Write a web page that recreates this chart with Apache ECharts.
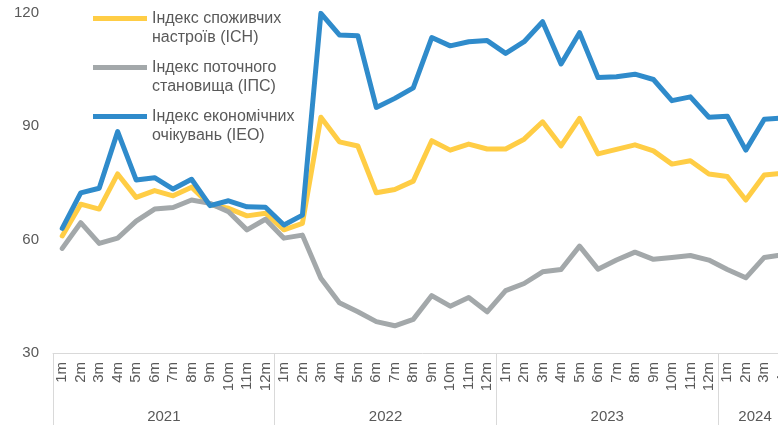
<!DOCTYPE html>
<html>
<head>
<meta charset="utf-8">
<script src="https://cdn.jsdelivr.net/npm/echarts@6/dist/echarts.min.js"></script>
<style>
  html, body { margin: 0; padding: 0; background: #fff; overflow: hidden; }
  #chart { width: 800px; height: 425px; }
</style>
</head>
<body>
<div id="chart"></div>
<script>
// місяці по роках (2024 — лише до квітня)
const years = ['2021', '2022', '2023', '2024'];
const monthsPerYear = [12, 12, 12, 4];
const months = [];
monthsPerYear.forEach(n => { for (let m = 1; m <= n; m++) months.push(m + 'm'); });

const yTicks = [30, 60, 90, 120];

const ich = [
  61.0, 69.4, 68.1, 77.4, 71.2, 73.0, 71.6, 73.9, 69.2, 68.3, 66.3, 67.0,
  62.6, 64.3, 92.4, 85.9, 84.8, 72.4, 73.3, 75.5, 86.2, 83.7, 85.3, 84.0,
  84.0, 86.6, 91.2, 84.8, 92.1, 82.7, 83.9, 85.1, 83.5, 80.0, 80.9, 77.4,
  76.7, 70.5, 77.1, 77.6
];
const ips = [
  57.7, 64.5, 59.0, 60.4, 64.9, 68.1, 68.5, 70.5, 69.6, 67.4, 62.6, 65.4,
  60.4, 61.2, 49.8, 43.3, 40.9, 38.3, 37.2, 38.9, 45.2, 42.4, 44.7, 40.9,
  46.5, 48.4, 51.5, 52.1, 58.3, 52.2, 54.6, 56.7, 54.8, 55.3, 55.8, 54.6,
  52.1, 49.9, 55.3, 56.0
];
const ieo = [
  63.0, 72.4, 73.6, 88.6, 75.8, 76.4, 73.4, 76.0, 69.0, 70.3, 68.7, 68.6,
  63.9, 66.5, 119.9, 114.2, 114.0, 95.0, 97.4, 100.2, 113.5, 111.3, 112.4, 112.7,
  109.3, 112.4, 117.7, 106.5, 114.8, 102.9, 103.1, 103.8, 102.4, 96.8, 97.8, 92.4,
  92.7, 83.7, 91.9, 92.2
];

const seriesNames = [
  'Індекс споживчих\nнастроїв (ІСН)',
  'Індекс поточного\nстановища (ІПС)',
  'Індекс економічних\nочікувань (ІЕО)'
];
const seriesColors = ['#FFCD45', '#A3A8AA', '#2F8BCB'];
const seriesData = [ich, ips, ieo];

// центри підписів років і межі між роками
const yearCenter = {};
const yearStarts = [];
let acc = 0;
monthsPerYear.forEach((n, i) => {
  yearStarts.push(acc);
  yearCenter[acc + n / 2] = years[i];
  acc += n;
});

const chart = echarts.init(document.getElementById('chart'));
const textColor = '#595959';
const font = 'Liberation Sans, Arial, sans-serif';

chart.setOption({
  animation: false,
  textStyle: { fontFamily: font },
  grid: { left: 53, right: 8, top: 13, bottom: 72 },
  legend: {
    orient: 'vertical',
    left: 93,
    top: -10,
    padding: 0,
    itemGap: -8,
    icon: 'rect',
    itemWidth: 54,
    itemHeight: 5,
    // порожній перший рядок — щоб лінія стояла навпроти першого рядка тексту
    formatter: name => '\n' + name,
    textStyle: {
      color: textColor,
      fontSize: 16,
      lineHeight: 19,
      fontFamily: font
    },
    data: seriesNames
  },
  xAxis: [
    {
      type: 'category',
      data: months,
      boundaryGap: true,
      axisLine: { lineStyle: { color: '#D9D9D9', width: 1 } },
      axisTick: {
        show: true,
        length: 80,
        interval: (idx) => yearStarts.includes(idx),
        lineStyle: { color: '#D9D9D9', width: 1 }
      },
      axisLabel: {
        interval: 0,
        rotate: 90,
        margin: 9,
        color: textColor,
        fontSize: 15,
        fontFamily: font
      }
    },
    {
      type: 'value',
      position: 'bottom',
      min: 0,
      max: months.length,
      interval: 2,
      axisLine: { show: false },
      axisTick: { show: false },
      splitLine: { show: false },
      axisLabel: {
        margin: 56,
        color: textColor,
        fontSize: 15,
        fontFamily: font,
        formatter: (v) => yearCenter[v] || ''
      }
    }
  ],
  yAxis: {
    type: 'value',
    min: yTicks[0],
    max: yTicks[yTicks.length - 1],
    interval: 30,
    axisLine: { show: false },
    axisTick: { show: false },
    splitLine: { show: false },
    axisLabel: { color: textColor, fontSize: 15, margin: 14, fontFamily: font }
  },
  series: seriesNames.map((name, i) => ({
    name: name,
    type: 'line',
    xAxisIndex: 0,
    data: seriesData[i],
    symbol: 'none',
    color: seriesColors[i],
    lineStyle: { width: 5, color: seriesColors[i], join: 'round', cap: 'round' }
  }))
});
</script>
</body>
</html>
